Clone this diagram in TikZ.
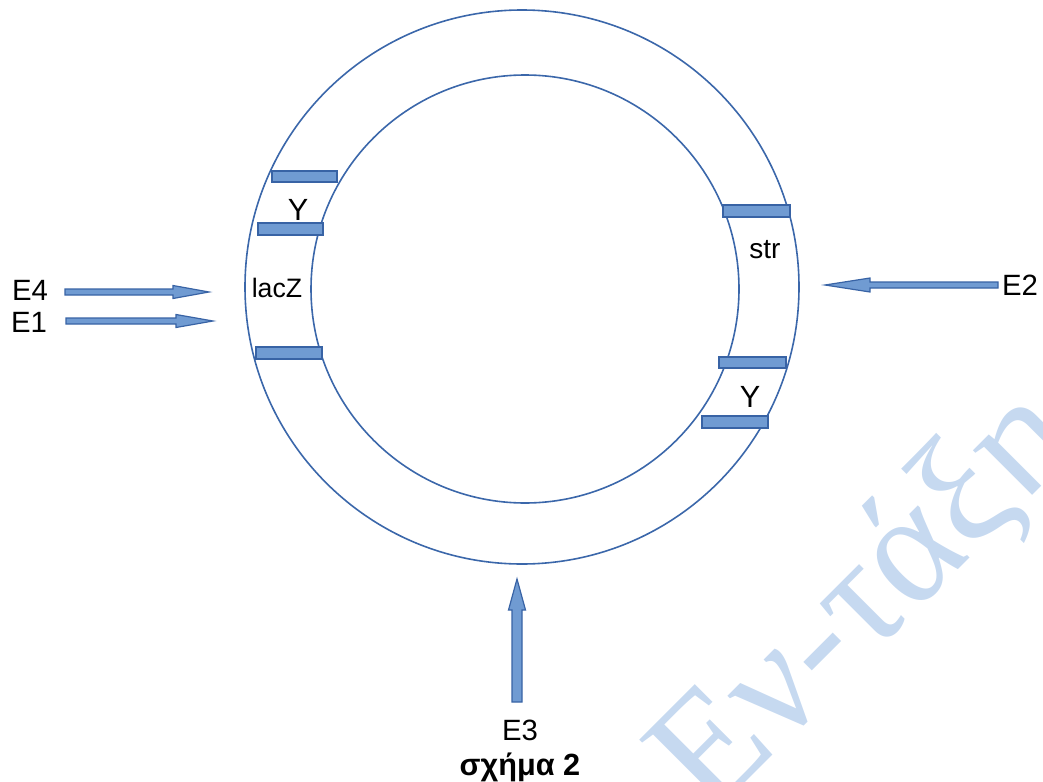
\documentclass[tikz,border=0pt]{standalone}
\usepackage{fontspec}
\setmainfont{Liberation Sans}
\newfontfamily\wmfont{Liberation Serif}
\definecolor{ringblue}{RGB}{59,103,170}
\definecolor{barfill}{RGB}{112,155,210}
\definecolor{barline}{RGB}{56,99,165}
\definecolor{wmblue}{RGB}{198,217,240}
\begin{document}
\begin{tikzpicture}[x=0.75pt,y=-0.75pt,
  ring/.style={draw=ringblue,line width=1.2pt},
  genebar/.style={draw=barline,fill=barfill,line width=0.9pt},
  blockarrow/.style={draw=barline,fill=barfill,line width=0.9pt,line join=miter},
  lab/.style={inner sep=0pt,font=\fontsize{22}{26}\selectfont},
  wm/.style={inner sep=0pt,text=wmblue,font=\wmfont\fontsize{120}{126}\selectfont}]
\useasboundingbox (0,0) rectangle (1043,782);
% watermark
\node[wm,rotate=45,anchor=base west] (wmark) at (710,818) {Εν-τάξη};
% rings
\draw[ring] (522,287) circle[radius=277];
\draw[ring] (525,289) circle[radius=214];
% gene bars left
\draw[genebar] (272,171) rectangle (337,182);
\draw[genebar] (258,223) rectangle (323,235);
\draw[genebar] (256,347) rectangle (322,359);
% gene bars right
\draw[genebar] (723,205) rectangle (790,217);
\draw[genebar] (719,357) rectangle (786,368);
\draw[genebar] (702,416) rectangle (768,428);
% labels inside ring
\node[lab,font=\fontsize{23}{26}\selectfont] (yl) at (298,210) {Y};
\node[lab,font=\fontsize{20}{24}\selectfont] (lacz) at (277,288) {lacZ};
\node[lab,font=\fontsize{21}{24}\selectfont] (str) at (765,250) {str};
\node[lab,font=\fontsize{23}{26}\selectfont] (yr) at (750,397) {Y};
% outer labels
\node[lab] (e4) at (30,290) {E4};
\node[lab] (e1) at (29,322) {E1};
\node[lab] (e2) at (1020,285) {E2};
\node[lab] (e3) at (520,730) {E3};
\node[lab,font=\bfseries\fontsize{23}{26}\selectfont] (fig) at (520,767) {σχήμα 2};
% arrows
\coordinate (e4tip) at (209,292);
\coordinate (e1tip) at (213,321);
\coordinate (e2tip) at (825,285);
\coordinate (e3tip) at (517,579);
\draw[blockarrow] (65,289) -- (173,289) -- (173,285.5) -- (e4tip) -- (173,298.5) -- (173,295) -- (65,295) -- cycle;
\draw[blockarrow] (66,318) -- (176,318) -- (176,314.5) -- (e1tip) -- (176,327.5) -- (176,324) -- (66,324) -- cycle;
\draw[blockarrow] (998,282) -- (870,282) -- (870,278) -- (e2tip) -- (870,292) -- (870,288) -- (998,288) -- cycle;
\draw[blockarrow] (512,702) -- (512,610) -- (508.5,610) -- (e3tip) -- (525.5,610) -- (522,610) -- (522,702) -- cycle;
\end{tikzpicture}
\end{document}
